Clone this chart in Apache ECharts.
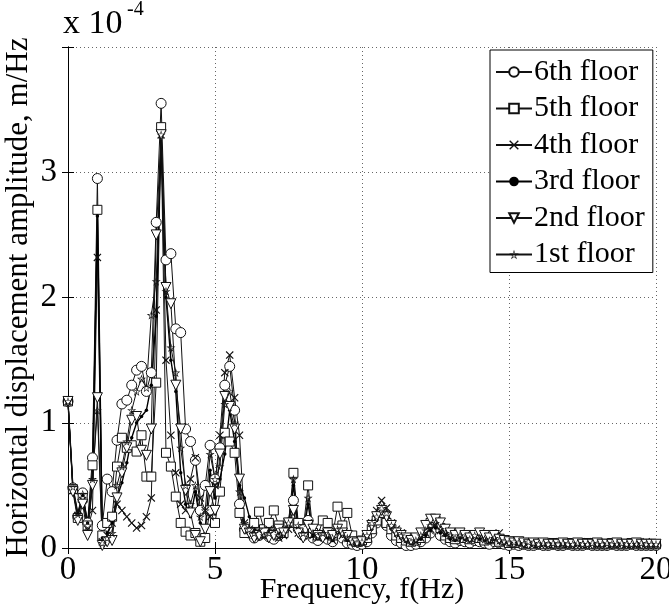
<!DOCTYPE html>
<html>
<head>
<meta charset="utf-8">
<title>Horizontal displacement amplitude</title>
<script src="https://cdn.jsdelivr.net/npm/echarts@6/dist/echarts.min.js"></script>
<style>
  html, body { margin: 0; padding: 0; background: #fff; }
  #chart { width: 669px; height: 604px; }
</style>
</head>
<body>
<div id="chart"></div>
<script>
// frequency bins, Hz (df = 1/6 Hz)
var freq = [
  0, 0.167, 0.333, 0.5, 0.667, 0.833, 1, 1.167, 1.333, 1.5, 1.667, 1.833,
  2, 2.167, 2.333, 2.5, 2.667, 2.833, 3, 3.167, 3.333, 3.5, 3.667, 3.833,
  4, 4.167, 4.333, 4.5, 4.667, 4.833, 5, 5.167, 5.333, 5.5, 5.667, 5.833,
  6, 6.167, 6.333, 6.5, 6.667, 6.833, 7, 7.167, 7.333, 7.5, 7.667, 7.833,
  8, 8.167, 8.333, 8.5, 8.667, 8.833, 9, 9.167, 9.333, 9.5, 9.667, 9.833,
  10, 10.167, 10.333, 10.5, 10.667, 10.833, 11, 11.167, 11.333, 11.5, 11.667, 11.833,
  12, 12.167, 12.333, 12.5, 12.667, 12.833, 13, 13.167, 13.333, 13.5, 13.667, 13.833,
  14, 14.167, 14.333, 14.5, 14.667, 14.833, 15, 15.167, 15.333, 15.5, 15.667, 15.833,
  16, 16.167, 16.333, 16.5, 16.667, 16.833, 17, 17.167, 17.333, 17.5, 17.667, 17.833,
  18, 18.167, 18.333, 18.5, 18.667, 18.833, 19, 19.167, 19.333, 19.5, 19.667, 19.833,
  20
];

// amplitudes in units of 1e-4 m/Hz
var floor6 = [
  1.17,0.48,0.25,0.44,0.2,0.72,2.95,0.18,0.55,0.45,
  0.86,1.15,1.18,1.3,1.42,1.45,1.25,1.4,2.6,3.55,
  2.3,2.35,1.75,1.72,0.95,0.85,0.7,0.3,0.5,0.82,
  0.55,0.8,1.3,1.45,1.1,0.35,0.15,0.12,0.08,0.1,
  0.12,0.09,0.07,0.1,0.14,0.2,0.38,0.15,0.1,0.22,
  0.08,0.06,0.1,0.07,0.05,0.12,0.08,0.04,0.03,0.02,
  0.03,0.05,0.12,0.2,0.25,0.18,0.1,0.06,0.04,0.02,
  0.02,0.03,0.05,0.08,0.12,0.15,0.1,0.07,0.05,0.04,
  0.06,0.05,0.04,0.06,0.05,0.04,0.03,0.05,0.04,0.03,
  0.02,0.03,0.02,0.03,0.02,0.02,0.03,0.02,0.02,0.03,
  0.02,0.02,0.03,0.02,0.02,0.02,0.03,0.02,0.02,0.02,
  0.02,0.03,0.02,0.02,0.02,0.03,0.02,0.02,0.02,0.02,
  0.02
];
var floor5 = [
  1.17,0.47,0.24,0.4,0.18,0.66,2.7,0.1,0.2,0.25,
  0.65,0.88,0.8,0.82,0.77,0.9,0.57,0.57,1.32,3.36,
  0.76,0.65,0.41,0.2,0.13,0.1,0.12,0.05,0.08,0.3,
  0.2,0.45,0.92,0.85,0.76,0.28,0.12,0.15,0.2,0.29,
  0.15,0.2,0.3,0.18,0.12,0.2,0.6,0.2,0.15,0.5,
  0.12,0.1,0.22,0.2,0.1,0.33,0.18,0.28,0.1,0.05,
  0.06,0.08,0.15,0.22,0.28,0.2,0.15,0.1,0.08,0.06,
  0.05,0.06,0.08,0.12,0.2,0.22,0.16,0.1,0.08,0.07,
  0.1,0.08,0.07,0.09,0.08,0.06,0.07,0.08,0.05,0.06,
  0.04,0.05,0.04,0.03,0.04,0.03,0.04,0.03,0.03,0.04,
  0.03,0.03,0.04,0.03,0.03,0.03,0.04,0.03,0.03,0.03,
  0.03,0.04,0.03,0.03,0.03,0.04,0.03,0.03,0.03,0.03,
  0.03
];
var floor4 = [
  1.17,0.46,0.26,0.38,0.15,0.3,2.32,0.05,0.1,0.2,
  0.35,0.3,0.25,0.2,0.16,0.18,0.25,0.4,1.9,3.3,
  1.5,0.9,0.6,0.35,0.3,0.55,0.72,0.4,0.3,0.25,
  0.5,0.9,1.4,1.54,1.2,0.9,0.2,0.15,0.1,0.12,
  0.1,0.15,0.12,0.08,0.1,0.15,0.3,0.12,0.1,0.2,
  0.1,0.08,0.12,0.1,0.06,0.15,0.1,0.08,0.05,0.04,
  0.05,0.1,0.2,0.3,0.38,0.32,0.2,0.15,0.12,0.08,
  0.06,0.05,0.08,0.12,0.15,0.18,0.14,0.12,0.1,0.08,
  0.12,0.1,0.08,0.1,0.12,0.1,0.08,0.1,0.12,0.07,
  0.06,0.05,0.04,0.05,0.04,0.03,0.04,0.03,0.04,0.05,
  0.03,0.04,0.03,0.04,0.03,0.04,0.05,0.03,0.03,0.04,
  0.03,0.03,0.04,0.03,0.03,0.04,0.03,0.03,0.05,0.03,
  0.03
];
var floor3 = [
  1.17,0.48,0.28,0.42,0.2,0.5,2.65,0.08,0.12,0.2,
  0.4,0.52,0.68,0.88,1.0,1.05,1.1,1.3,1.85,3.3,
  2.0,1.5,1.25,0.6,0.35,0.25,0.45,0.2,0.15,0.62,
  0.4,0.55,0.75,1.1,0.85,0.5,0.4,0.25,0.15,0.1,
  0.12,0.1,0.08,0.12,0.1,0.18,0.5,0.15,0.12,0.35,
  0.1,0.08,0.1,0.08,0.06,0.12,0.1,0.06,0.04,0.03,
  0.04,0.08,0.15,0.22,0.28,0.25,0.15,0.1,0.08,0.05,
  0.04,0.05,0.07,0.1,0.14,0.16,0.12,0.1,0.07,0.06,
  0.08,0.07,0.06,0.08,0.07,0.06,0.05,0.07,0.06,0.05,
  0.04,0.03,0.04,0.03,0.03,0.04,0.03,0.03,0.04,0.03,
  0.03,0.03,0.02,0.03,0.03,0.02,0.03,0.03,0.02,0.03,
  0.03,0.02,0.03,0.03,0.02,0.03,0.03,0.02,0.03,0.03,
  0.03
];
var floor2 = [
  1.17,0.45,0.22,0.35,0.1,0.5,1.2,0.02,0.05,0.06,
  0.4,0.6,0.8,1.02,1.05,0.78,0.74,0.95,2.5,3.3,
  2.08,1.95,1.3,0.95,0.46,0.28,0.1,0.05,0.15,0.45,
  0.3,0.75,1.21,1.13,0.95,0.55,0.15,0.12,0.08,0.1,
  0.12,0.08,0.1,0.15,0.12,0.2,0.3,0.12,0.08,0.18,
  0.15,0.1,0.08,0.12,0.1,0.15,0.12,0.1,0.05,0.04,
  0.05,0.1,0.18,0.25,0.3,0.25,0.18,0.12,0.1,0.08,
  0.06,0.08,0.12,0.18,0.23,0.23,0.2,0.15,0.12,0.1,
  0.12,0.1,0.08,0.1,0.12,0.1,0.08,0.1,0.07,0.06,
  0.05,0.04,0.05,0.04,0.03,0.04,0.03,0.04,0.03,0.03,
  0.03,0.04,0.03,0.03,0.04,0.03,0.03,0.03,0.04,0.03,
  0.03,0.03,0.04,0.03,0.03,0.03,0.04,0.03,0.03,0.03,
  0.03
];
var floor1 = [
  1.17,0.49,0.27,0.43,0.18,0.55,1.1,0.04,0.08,0.12,
  0.5,0.65,0.85,1.1,1.25,1.35,1.28,1.86,2.13,3.3,
  2.05,1.6,1.4,0.8,0.5,0.35,0.5,0.25,0.3,0.75,
  0.55,0.65,1.15,1.25,1.0,0.45,0.2,0.15,0.12,0.15,
  0.1,0.12,0.15,0.1,0.12,0.2,0.55,0.18,0.12,0.4,
  0.12,0.1,0.12,0.1,0.08,0.15,0.12,0.08,0.05,0.04,
  0.05,0.1,0.2,0.25,0.32,0.28,0.18,0.12,0.1,0.07,
  0.05,0.06,0.1,0.14,0.18,0.2,0.15,0.12,0.1,0.08,
  0.1,0.08,0.07,0.1,0.08,0.07,0.06,0.08,0.06,0.05,
  0.04,0.05,0.04,0.03,0.05,0.04,0.03,0.04,0.03,0.04,
  0.03,0.04,0.03,0.03,0.04,0.03,0.03,0.04,0.03,0.03,
  0.04,0.03,0.03,0.04,0.03,0.03,0.03,0.04,0.03,0.03,
  0.03
];

var xTicks = [0, 5, 10, 15, 20];
var yTicks = [0, 1, 2, 3];
var names = ['6th floor', '5th floor', '4th floor', '3rd floor', '2nd floor', '1st floor'];

var FONT = '"Liberation Serif", "Times New Roman", serif';
// x marker and outlined pentagram, drawn as filled bands
var crossPath = 'path://M0,1L1,0L5,4L9,0L10,1L6,5L10,9L9,10L5,6L1,10L0,9L4,5Z';
var starPath = 'path://M50,0L61,35L98,35L68,57L79,91L50,70L21,91L32,57L2,35L39,35Z' +
  'M50,20L43.4,41L21.2,41L39.2,54.2L32.6,74.6L50,62L67.4,74.6L60.8,54.2L78.8,41L56.6,41Z';

function pairs(ys) {
  return freq.map(function (f, i) { return [f, ys[i]]; });
}

function makeSeries(name, ys, symbol, size, item, extra) {
  var s = {
    name: name,
    type: 'line',
    data: pairs(ys),
    symbol: symbol,
    symbolSize: size,
    showAllSymbol: true,
    lineStyle: { color: '#111', width: 1 },
    itemStyle: item,
    emphasis: { disabled: true },
    z: 2
  };
  for (var k in extra) s[k] = extra[k];
  return s;
}

var openItem = { color: '#fff', borderColor: '#111', borderWidth: 1 };
var solidItem = { color: '#111', borderWidth: 0 };

var chart = echarts.init(document.getElementById('chart'), null, { renderer: 'canvas' });

var axisCommon = {
  type: 'value',
  axisLine: { show: true, lineStyle: { color: '#000', width: 1 } },
  axisTick: { show: true, inside: true, length: 6, lineStyle: { color: '#000' } },
  axisLabel: { show: false }
};

var option = {
  animation: false,
  backgroundColor: '#fff',
  textStyle: { fontFamily: FONT },
  grid: { left: 68, right: 13, top: 47, bottom: 56, containLabel: false, outerBoundsMode: 'none' },
  graphic: [
    { type: 'text', left: 63, top: 7, style: { text: 'x 10', font: '34px ' + FONT, fill: '#000' } },
    { type: 'text', left: 127, top: 0, style: { text: '-4', font: '20px ' + FONT, fill: '#000' } }
  ],
  legend: {
    orient: 'vertical',
    left: 490,
    top: 50,
    data: names,
    backgroundColor: '#fff',
    borderColor: '#000',
    borderWidth: 1,
    borderRadius: 0,
    padding: [7, 8, 3, 5],
    itemWidth: 36,
    itemHeight: 12,
    itemGap: 6.5,
    textStyle: { fontFamily: FONT, fontSize: 30, color: '#000', lineHeight: 30, padding: [0, 0, 0, -3] },
    selectedMode: false
  },
  xAxis: [
    Object.assign({}, axisCommon, {
      min: 0, max: 20, interval: 5,
      position: 'bottom',
      name: 'Frequency, f(Hz)',
      nameLocation: 'middle',
      nameGap: 27,
      nameMoveOverlap: false,
      nameTextStyle: { fontFamily: FONT, fontSize: 30, color: '#000' },
      axisLabel: {
        show: true, margin: 6, fontFamily: FONT, fontSize: 33, color: '#000',
        formatter: function (v) { return xTicks.indexOf(v) >= 0 ? String(v) : ''; }
      },
      splitLine: { show: true, lineStyle: { color: '#666', type: [1, 3], width: 1 } }
    }),
    Object.assign({}, axisCommon, {
      min: 0, max: 20, interval: 5, position: 'top',
      splitLine: { show: false }
    })
  ],
  yAxis: [
    Object.assign({}, axisCommon, {
      min: 0, max: 4, interval: 1,
      position: 'left',
      name: 'Horizontal displacement amplitude, m/Hz',
      nameLocation: 'middle',
      nameGap: 34,
      nameMoveOverlap: false,
      nameTextStyle: { fontFamily: FONT, fontSize: 31, color: '#000' },
      axisLabel: {
        show: true, margin: 11, fontFamily: FONT, fontSize: 33, color: '#000',
        formatter: function (v) { return yTicks.indexOf(v) >= 0 ? String(v) : ''; }
      },
      splitLine: { show: true, lineStyle: { color: '#666', type: [1, 3], width: 1 } }
    }),
    Object.assign({}, axisCommon, {
      min: 0, max: 4, interval: 1, position: 'right',
      splitLine: { show: false }
    })
  ],
  series: [
    makeSeries(names[0], floor6, 'circle', 10, openItem, {}),
    makeSeries(names[1], floor5, 'rect', 9, openItem, {}),
    makeSeries(names[2], floor4, crossPath, 8, solidItem, {}),
    makeSeries(names[3], floor3, 'circle', 3.5, { color: '#000', borderWidth: 0 },
      { lineStyle: { color: '#000', width: 1.4 } }),
    makeSeries(names[4], floor2, 'triangle', 10, openItem, { symbolRotate: 180 }),
    makeSeries(names[5], floor1, starPath, 9, solidItem, {})
  ]
};

chart.setOption(option);
</script>
</body>
</html>
